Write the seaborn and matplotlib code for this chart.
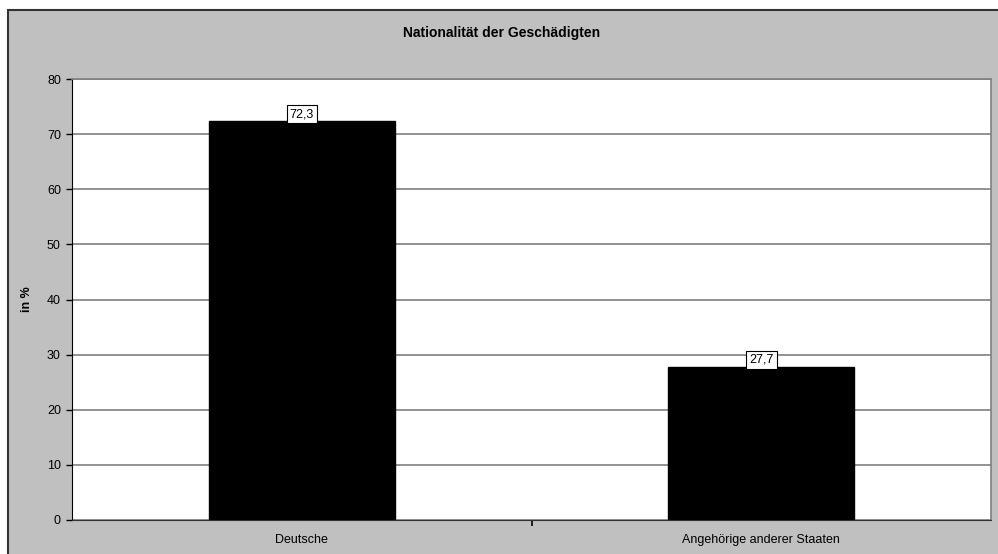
import matplotlib
matplotlib.use("Agg")
import matplotlib.pyplot as plt
import seaborn as sns
from matplotlib.patches import Rectangle

# Daten
categories = ["Deutsche", "Angehörige anderer Staaten"]
values = [72.3, 27.7]
labels = ["72,3", "27,7"]
yticks = [0, 10, 20, 30, 40, 50, 60, 70, 80]

sns.set_style("white")
plt.rcParams['font.family'] = ['Liberation Sans', 'DejaVu Sans']
plt.rcParams['text.color'] = 'black'
plt.rcParams['xtick.color'] = 'black'
plt.rcParams['ytick.color'] = 'black'
plt.rcParams['axes.labelcolor'] = 'black'

fig = plt.figure(figsize=(9.98, 5.54), dpi=100)
fig.patch.set_facecolor("white")

# grauer Diagrammbereich
bg = Rectangle((8 / 998, -0.1), 1.2, 1.1 - 10 / 554, transform=fig.transFigure,
               facecolor="#c0c0c0", edgecolor="#333333", linewidth=1.5, zorder=-1)
fig.patches.append(bg)

ax = fig.add_axes([72 / 998, 34 / 554, 919 / 998, 441 / 554])
ax.set_zorder(1)
ax.set_facecolor("white")

sns.barplot(x=categories, y=values, color="black", width=0.405, saturation=1, ax=ax, zorder=3)
for p in ax.patches:
    p.set_edgecolor("black")

ax.set_xlim(-0.5, 1.5)
ax.set_ylim(0, 80)
ax.set_yticks(yticks)
ax.yaxis.grid(True, color="#808080", linewidth=1.2, zorder=0)
ax.set_axisbelow(True)

for s in ["top", "right"]:
    ax.spines[s].set_color("#808080")
    ax.spines[s].set_linewidth(1.2)
ax.spines["left"].set_color("black")
ax.spines["bottom"].set_color("#333333")

ax.tick_params(axis="y", length=4, width=1, color="black", labelsize=9, pad=4, left=True)
ax.tick_params(axis="x", length=0, labelsize=9, pad=10)
ax.set_xticks([0.5], minor=True)
ax.tick_params(axis="x", which="minor", length=4, width=1.2, color="black", bottom=True)

for i, (v, t) in enumerate(zip(values, labels)):
    ax.annotate(t, (i, v), xytext=(0, 1), textcoords="offset points", ha="center", va="bottom",
                fontsize=9, zorder=5,
                bbox=dict(boxstyle="square,pad=0.25", facecolor="white", edgecolor="black", linewidth=0.8))

ax.set_xlabel("")
ax.set_ylabel("in %", fontsize=9, fontweight="bold")
ax.yaxis.set_label_coords(-39 / 920, 0.5)
fig.text(502 / 998, 1 - 33 / 554, "Nationalität der Geschädigten", ha="center", va="center",
         fontsize=10, fontweight="bold")

fig.savefig("out.png", dpi=100)
